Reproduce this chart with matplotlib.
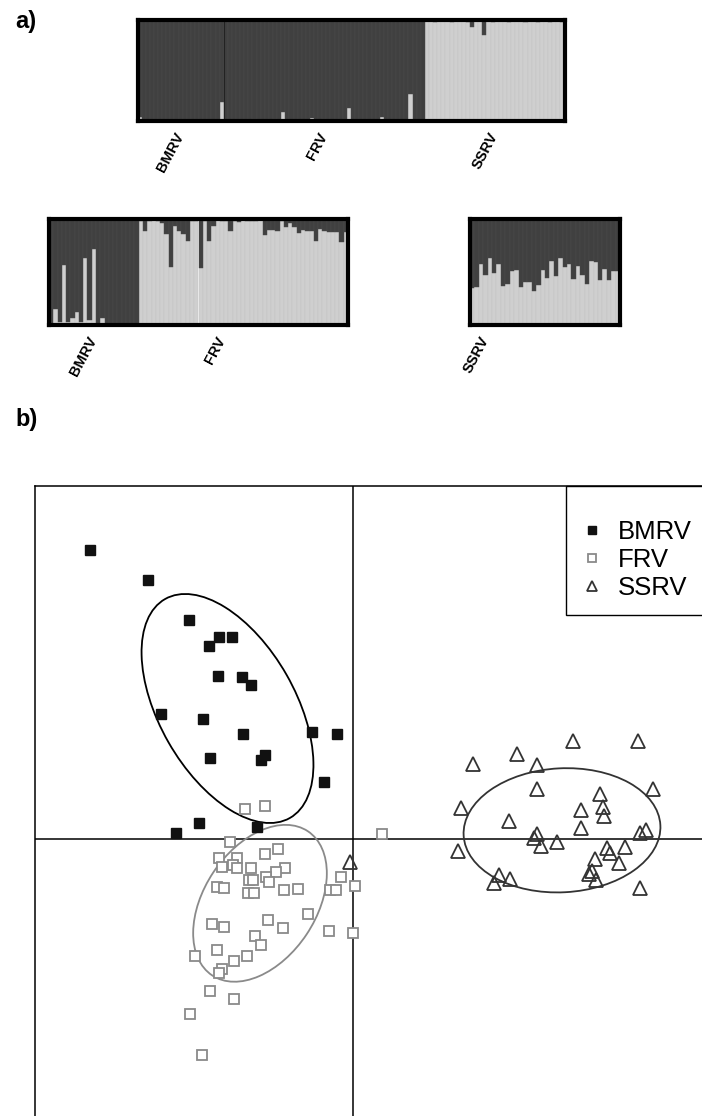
import numpy as np
import matplotlib.pyplot as plt
from matplotlib.patches import Ellipse, Rectangle

plt.rcParams['font.family'] = ['Liberation Sans', 'DejaVu Sans']

# a) доли принадлежности к светлому кластеру (нижняя часть столбца)
top_bmrv = [0.04, 0.015, 0.01, 0.01, 0.01, 0.005, 0.01, 0.01, 0.01, 0.005,
            0.01, 0.01, 0.01, 0.01, 0.005, 0.01, 0.01, 0.01, 0.005, 0.01, 0.19]
top_frv = [0.01, 0.01, 0.005, 0.01, 0.01, 0.01, 0.01, 0.02, 0.01, 0.01,
           0.01, 0.01, 0.02, 0.01, 0.09, 0.01, 0.01, 0.01, 0.005, 0.01,
           0.01, 0.03, 0.01, 0.01, 0.02, 0.01, 0.01, 0.01, 0.01, 0.02,
           0.13, 0.01, 0.01, 0.005, 0.01, 0.01, 0.01, 0.01, 0.04, 0.01,
           0.01, 0.01, 0.01, 0.01, 0.01, 0.27, 0.01, 0.01, 0.01]
top_ssrv = [0.985, 0.99, 0.98, 0.985, 0.99, 0.985, 0.98, 0.99, 0.985, 0.99,
            0.98, 0.93, 0.985, 0.99, 0.85, 0.985, 0.98, 0.99, 0.985, 0.99,
            0.98, 0.985, 0.99, 0.985, 0.98, 0.99, 0.985, 0.975, 0.99, 0.985,
            0.98, 0.99, 0.985, 0.98]

sub_bmrv = [0.01, 0.15, 0.03, 0.57, 0.03, 0.07, 0.12, 0.03, 0.63, 0.05,
            0.72, 0.02, 0.07, 0.01, 0.01, 0.01, 0.005, 0.005, 0.01, 0.005, 0.01]
sub_frv = [0.98, 0.89, 0.98, 0.99, 0.98, 0.96, 0.86, 0.55, 0.93, 0.89,
           0.86, 0.79, 0.98, 0.98, 0.54, 0.98, 0.79, 0.93, 0.99, 0.98,
           0.98, 0.89, 0.98, 0.97, 0.99, 0.98, 0.98, 0.98, 0.99, 0.85,
           0.90, 0.90, 0.89, 0.98, 0.92, 0.96, 0.92, 0.87, 0.90, 0.89,
           0.89, 0.79, 0.91, 0.89, 0.88, 0.88, 0.88, 0.78, 0.88]
sub_ssrv = [0.35, 0.36, 0.58, 0.47, 0.63, 0.49, 0.58, 0.37, 0.39, 0.51,
            0.52, 0.36, 0.41, 0.41, 0.32, 0.38, 0.52, 0.44, 0.60, 0.46,
            0.63, 0.55, 0.58, 0.43, 0.56, 0.47, 0.39, 0.60, 0.59, 0.42,
            0.53, 0.42, 0.51, 0.51]

# b) координаты PCA
bmrv_x = [-2.63, -2.05, -1.64, -1.34, -1.21, -1.44, -1.35, -1.11, -1.02, -1.92, -1.50,
          -1.10, -0.41, -0.16, -1.43, -0.88, -0.92, -0.29, -1.54, -1.77, -0.96]
bmrv_y = [2.89, 2.59, 2.19, 2.02, 2.02, 1.93, 1.63, 1.62, 1.54, 1.25, 1.20,
          1.05, 1.07, 1.05, 0.81, 0.84, 0.79, 0.57, 0.16, 0.06, 0.12]

frv_x = [-1.08, -0.88, 0.29, -1.23, -0.75, -0.88, -1.34, -1.16, -1.20, -1.31, -1.16, -1.02,
         -0.68, -0.77, -0.87, -0.12, -1.04, -1.00, -0.84, -1.36, -1.29, -0.69, -0.55, -0.23,
         -0.17, 0.02, -1.05, -0.99, -0.45, -0.85, -1.41, -1.29, -0.70, -0.24, 0.00, -0.98,
         -0.92, -1.36, -1.58, -1.06, -1.19, -1.31, -1.34, -1.43, -1.19, -1.63, -1.51]
frv_y = [0.30, 0.33, 0.05, -0.03, -0.10, -0.15, -0.19, -0.19, -0.26, -0.28, -0.29, -0.29,
         -0.29, -0.33, -0.38, -0.38, -0.41, -0.41, -0.43, -0.48, -0.49, -0.51, -0.50, -0.51,
         -0.51, -0.47, -0.54, -0.54, -0.75, -0.81, -0.85, -0.88, -0.89, -0.92, -0.94, -0.97,
         -1.06, -1.11, -1.17, -1.17, -1.22, -1.30, -1.34, -1.52, -1.60, -1.75, -2.16]

ssrv_x = [1.20, 1.64, 2.20, 2.85, 1.84, 3.00, 1.84, 2.47, 1.08, 2.28, 2.50, 2.51,
          1.56, 2.28, 2.93, 2.87, 1.84, 1.81, 2.04, 1.88, 1.05, 2.54, 2.72, 2.57,
          2.42, 2.66, 2.39, 2.36, 2.43, 1.46, 1.57, 1.41, 2.87, -0.03]
ssrv_y = [0.75, 0.85, 0.98, 0.98, 0.74, 0.50, 0.50, 0.45, 0.31, 0.29, 0.32, 0.23,
          0.18, 0.11, 0.09, 0.06, 0.05, 0.01, -0.03, -0.07, -0.12, -0.09, -0.08, -0.14,
          -0.20, -0.24, -0.32, -0.35, -0.41, -0.36, -0.40, -0.44, -0.49, -0.23]

W, H = 702, 1116
fig = plt.figure(figsize=(W / 100, H / 100), dpi=100)


def px_axes(x0, y0, x1, y1):
    # прямоугольник в пикселях (от левого верхнего угла)
    return fig.add_axes([x0 / W, 1 - y1 / H, (x1 - x0) / W, (y1 - y0) / H])


DARK = '#404040'
LIGHT = '#cfcfcf'


def structure(ax, groups, labels, ticks=None, sep=False):
    vals = np.concatenate(groups)
    n = len(vals)
    x = np.arange(n)
    ax.bar(x, vals, width=1.0, color=LIGHT, edgecolor='#c2c2c2', linewidth=0.3)
    ax.bar(x, 1 - vals, bottom=vals, width=1.0, color=DARK, edgecolor='#4c4c4c', linewidth=0.3)
    ax.set_xlim(-0.5, n - 0.5)
    ax.set_ylim(0, 1)
    sizes = np.array([len(g) for g in groups])
    starts = np.cumsum(np.r_[0, sizes[:-1]])
    if sep:
        ax.axvline(starts[1] - 0.5, color='#222222', lw=0.8)
    if ticks is None:
        ticks = starts + sizes / 2 - 0.5
    ax.set_xticks(ticks)
    ax.set_xticklabels(labels, rotation=62, ha='right', va='center',
                       rotation_mode='anchor', fontsize=10.5, fontweight='bold')
    ax.tick_params(axis='x', length=0, pad=9)
    ax.set_yticks([])
    for s in ax.spines.values():
        s.set_linewidth(3)


ax1 = px_axes(137.5, 19.5, 564.5, 121)
structure(ax1, [top_bmrv, top_frv, top_ssrv], ['BMRV', 'FRV', 'SSRV'], sep=True)

ax2 = px_axes(49, 219, 348, 325)
structure(ax2, [sub_bmrv, sub_frv], ['BMRV', 'FRV'], ticks=[10, 40])

ax3 = px_axes(470, 219, 620, 325)
structure(ax3, [sub_ssrv], ['SSRV'], ticks=[3])

fig.text(15 / W, 1 - 10 / H, 'a)', fontsize=17, fontweight='bold', va='top')
fig.text(15 / W, 1 - 408 / H, 'b)', fontsize=17, fontweight='bold', va='top')

# b) PCA
axb = px_axes(35, 486, 720, 1130)
axb.set_xlim(-3.18, 3.67)
axb.set_ylim(-2.91, 3.53)
axb.axhline(0, color='black', lw=1.1, zorder=1)
axb.axvline(0, color='black', lw=1.1, zorder=1)

axb.add_patch(Ellipse((-1.255, 1.305), 2.52, 1.36, angle=119.7, fill=False,
                      ec='black', lw=1.3, zorder=2))
axb.add_patch(Ellipse((-0.93, -0.643), 1.73, 1.12, angle=56.4, fill=False,
                      ec='#8a8a8a', lw=1.3, zorder=2))
axb.add_patch(Ellipse((2.09, 0.087), 1.97, 1.24, angle=3, fill=False,
                      ec='#333333', lw=1.3, zorder=2))

axb.plot(bmrv_x, bmrv_y, 's', ms=7, mfc='#111111', mec='#111111', mew=1, ls='none',
         label='BMRV', zorder=3)
axb.plot(frv_x, frv_y, 's', ms=7, mfc='white', mec='#8a8a8a', mew=1.3, ls='none',
         label='FRV', zorder=3)
axb.plot(ssrv_x, ssrv_y, '^', ms=10, mfc='none', mec='#333333', mew=1.3, ls='none',
         label='SSRV', zorder=3)

axb.set_xticks([])
axb.set_yticks([])
for s in axb.spines.values():
    s.set_linewidth(1.1)

# рамка легенды
axb.add_patch(Rectangle((566 / W, 1 - 615 / H), 160 / W, 129 / H,
                        transform=fig.transFigure, fc='white', ec='black',
                        lw=1.0, zorder=5, clip_on=False))
leg = axb.legend(loc='center left', bbox_to_anchor=(580.5 / W, 1 - 560 / H),
                 bbox_transform=fig.transFigure, borderaxespad=0, borderpad=0,
                 fontsize=18.5, markerscale=0.75, handlelength=0.9,
                 handletextpad=0.56, labelspacing=0.15, frameon=False)
leg.set_zorder(6)

fig.savefig('out.png', dpi=100)
